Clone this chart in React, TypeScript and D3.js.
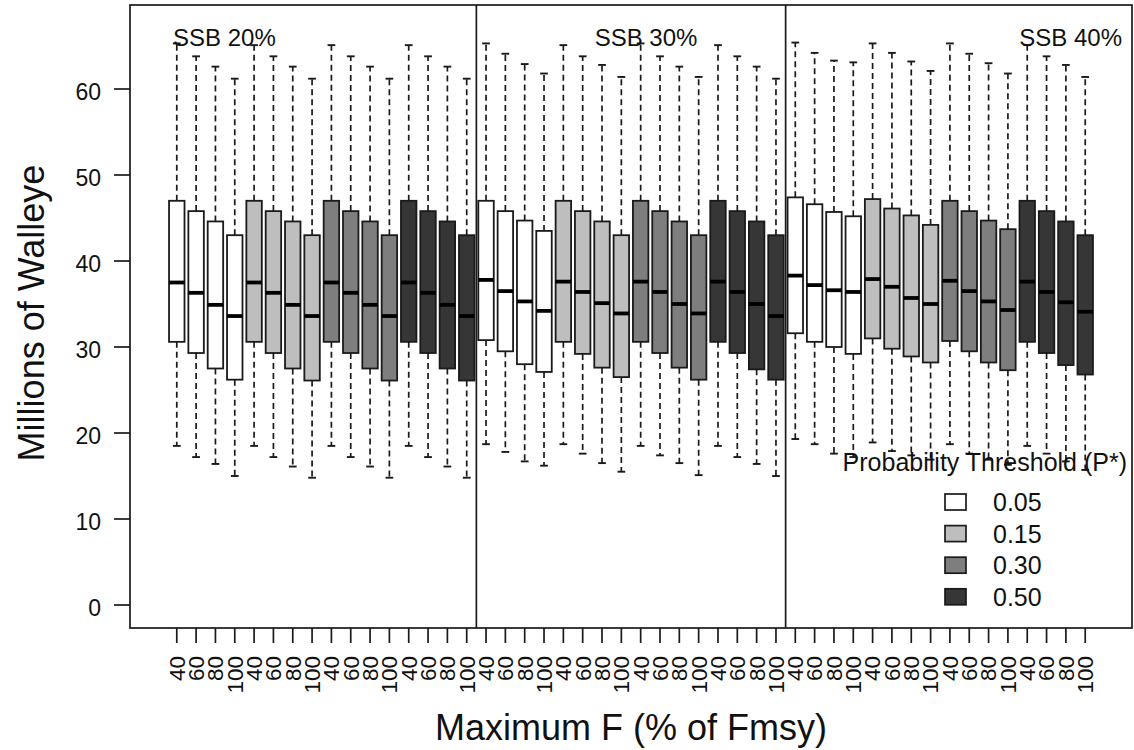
import React, { useEffect } from "react";
import * as d3 from "d3";

const panels = ["SSB 20%", "SSB 30%", "SSB 40%"];
const thresholds = ["0.05", "0.15", "0.30", "0.50"];
const maxF = ["40", "60", "80", "100"];
const fills = ["#ffffff", "#bebebe", "#7e7e7e", "#363636"];
const yTicks = [0, 10, 20, 30, 40, 50, 60];

// 48 boxes: panel (SSB) x threshold x maxF
const whiskerHigh = [
  65.3, 63.8, 62.6, 61.2, 65.1, 63.8, 62.6, 61.2, 65.1, 63.8, 62.6, 61.2, 65.1, 63.8, 62.6, 61.2,
  65.3, 64.1, 62.9, 61.8, 65.1, 63.8, 62.8, 61.4, 65.3, 63.8, 62.6, 61.4, 65.1, 63.8, 62.6, 61.2,
  65.4, 64.2, 63.3, 63.1, 65.3, 64.2, 63.2, 62.1, 65.3, 64.1, 63.0, 61.8, 65.1, 63.8, 62.8, 61.4,
];
const q3 = [
  47.0, 45.8, 44.6, 43.0, 47.0, 45.8, 44.6, 43.0, 47.0, 45.8, 44.6, 43.0, 47.0, 45.8, 44.6, 43.0,
  47.0, 45.8, 44.7, 43.5, 47.0, 45.8, 44.6, 43.0, 47.0, 45.8, 44.6, 43.0, 47.0, 45.8, 44.6, 43.0,
  47.4, 46.6, 45.7, 45.2, 47.2, 46.1, 45.3, 44.2, 47.0, 45.8, 44.7, 43.7, 47.0, 45.8, 44.6, 43.0,
];
const median = [
  37.5, 36.3, 34.9, 33.6, 37.5, 36.3, 34.9, 33.6, 37.5, 36.3, 34.9, 33.6, 37.5, 36.3, 34.9, 33.6,
  37.8, 36.5, 35.3, 34.2, 37.6, 36.4, 35.1, 33.9, 37.6, 36.4, 35.0, 33.9, 37.6, 36.4, 35.0, 33.6,
  38.3, 37.2, 36.6, 36.4, 37.9, 37.0, 35.7, 35.0, 37.7, 36.5, 35.3, 34.3, 37.6, 36.4, 35.2, 34.1,
];
const q1 = [
  30.6, 29.3, 27.5, 26.2, 30.6, 29.3, 27.5, 26.1, 30.6, 29.3, 27.5, 26.1, 30.6, 29.3, 27.5, 26.1,
  30.8, 29.5, 28.0, 27.1, 30.6, 29.2, 27.6, 26.5, 30.6, 29.3, 27.6, 26.2, 30.6, 29.3, 27.4, 26.2,
  31.6, 30.6, 30.0, 29.2, 31.0, 29.8, 28.9, 28.2, 30.7, 29.5, 28.2, 27.3, 30.6, 29.3, 27.9, 26.8,
];
const whiskerLow = [
  18.5, 17.2, 16.4, 15.0, 18.5, 17.2, 16.1, 14.8, 18.5, 17.2, 16.1, 14.8, 18.5, 17.2, 16.1, 14.8,
  18.7, 17.8, 16.7, 16.2, 18.7, 17.6, 16.5, 15.5, 18.5, 17.4, 16.5, 15.1, 18.5, 17.2, 16.4, 15.0,
  19.3, 18.7, 17.6, 17.2, 18.9, 17.9, 17.4, 16.9, 18.7, 17.6, 16.9, 16.3, 18.5, 17.6, 16.7, 15.7,
];

const FONT = "'Liberation Sans', Arial, Helvetica, sans-serif";

export default function App() {
  useEffect(() => {
    document.body.style.margin = "0";
  }, []);

  const n = whiskerHigh.length;
  const x = d3.scaleLinear().domain([-1.42, n + 2.42]).range([130, 1132]);
  const y = d3.scaleLinear().domain([0, 60]).range([605, 89]);
  const step = x(2) - x(1);
  const bw = step * 0.8;
  const cap = bw / 2;
  const top = 5;
  const bottom = 628;
  const ink = "#1a1a1a";

  const boxes = d3.range(n).map((i) => ({
    i,
    pos: i + 1,
    label: maxF[i % 4],
    fill: fills[Math.floor(i / 4) % 4],
  }));

  return (
    <svg
      width={1134}
      height={750}
      style={{ position: "absolute", left: 0, top: 0, background: "#fff" }}
      fontFamily={FONT}
    >
      <rect x={0} y={0} width={1134} height={750} fill="#fff" />
      {/* boxes */}
      {boxes.map((b) => {
        const cx = x(b.pos);
        return (
          <g key={b.i}>
            <line x1={cx} x2={cx} y1={y(q3[b.i])} y2={y(whiskerHigh[b.i])} stroke={ink} strokeWidth={1.7} strokeDasharray="6,4" />
            <line x1={cx} x2={cx} y1={y(q1[b.i])} y2={y(whiskerLow[b.i])} stroke={ink} strokeWidth={1.7} strokeDasharray="6,4" />
            <line x1={cx - cap / 2} x2={cx + cap / 2} y1={y(whiskerHigh[b.i])} y2={y(whiskerHigh[b.i])} stroke={ink} strokeWidth={1.9} />
            <line x1={cx - cap / 2} x2={cx + cap / 2} y1={y(whiskerLow[b.i])} y2={y(whiskerLow[b.i])} stroke={ink} strokeWidth={1.9} />
            <rect
              x={cx - bw / 2}
              y={y(q3[b.i])}
              width={bw}
              height={y(q1[b.i]) - y(q3[b.i])}
              fill={b.fill}
              stroke={ink}
              strokeWidth={1.8}
            />
            <line x1={cx - bw / 2} x2={cx + bw / 2} y1={y(median[b.i])} y2={y(median[b.i])} stroke="#000" strokeWidth={3.8} />
          </g>
        );
      })}

      {/* panel dividers and frame */}
      {[16.5, 32.5].map((v) => (
        <line key={v} x1={x(v)} x2={x(v)} y1={top} y2={bottom} stroke={ink} strokeWidth={1.7} />
      ))}
      <rect x={130} y={top} width={1132 - 130} height={bottom - top} fill="none" stroke={ink} strokeWidth={1.7} />

      {/* panel titles */}
      <text x={173} y={46} fontSize={24} fill="#111">{panels[0]}</text>
      <text x={646} y={46} fontSize={24} fill="#111" textAnchor="middle">{panels[1]}</text>
      <text x={1122} y={46} fontSize={24} fill="#111" textAnchor="end">{panels[2]}</text>

      {/* y axis */}
      {yTicks.map((t) => (
        <g key={t}>
          <line x1={114} x2={130} y1={y(t)} y2={y(t)} stroke={ink} strokeWidth={1.7} />
          <text x={101} y={y(t) + 11} fontSize={23} textAnchor="end" fill="#111">{t}</text>
        </g>
      ))}
      <text
        transform={`translate(44, 313) rotate(-90)`}
        fontSize={36}
        textAnchor="middle"
        fill="#111"
      >
        Millions of Walleye
      </text>

      {/* x axis */}
      {boxes.map((b) => {
        const cx = x(b.pos);
        return (
          <g key={"t" + b.i}>
            <line x1={cx} x2={cx} y1={bottom} y2={643} stroke={ink} strokeWidth={1.7} />
            <text
              transform={`translate(${cx}, 656) rotate(-90)`}
              fontSize={22.5}
              textAnchor="end"
              dy="0.35em"
              fill="#111"
            >
              {b.label}
            </text>
          </g>
        );
      })}
      <text x={631} y={740} fontSize={36} textAnchor="middle" fill="#111">
        Maximum F (% of Fmsy)
      </text>

      {/* legend */}
      <text x={1127} y={471} fontSize={25} textAnchor="end" fill="#111">
        Probability Threshold (P*)
      </text>
      {thresholds.map((t, k) => {
        const cy = 502 + k * 31.6;
        return (
          <g key={t}>
            <rect x={945} y={cy - 8} width={21} height={16} fill={fills[k]} stroke={ink} strokeWidth={1.7} />
            <text x={993} y={cy + 9} fontSize={25} fill="#111">{t}</text>
          </g>
        );
      })}
    </svg>
  );
}
